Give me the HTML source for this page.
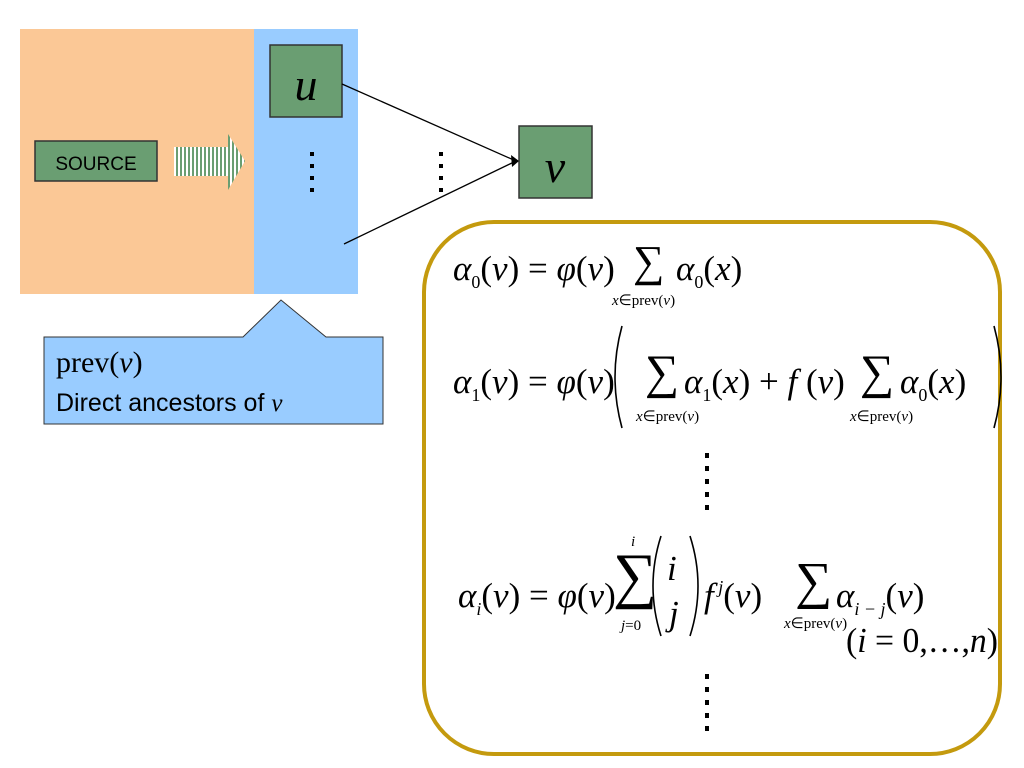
<!DOCTYPE html>
<html><head><meta charset="utf-8"><style>
body{margin:0;background:#fff;}
svg{display:block;}
.m{font-family:"Liberation Serif",serif;font-size:35px;}
.i{font-style:italic;}
.s{font-family:"Liberation Serif",serif;font-size:15px;}
</style></head><body>
<svg width="1024" height="768" viewBox="0 0 1024 768" xmlns="http://www.w3.org/2000/svg">
<defs>
<pattern id="st" width="4" height="4" patternUnits="userSpaceOnUse">
<rect width="2" height="4" fill="#6a9e72"/><rect x="2" width="2" height="4" fill="#fff"/>
</pattern>
</defs>
<rect x="20" y="29" width="234" height="265" fill="#fbc896"/>
<rect x="254" y="29" width="104" height="265" fill="#99ccff"/>
<rect x="35" y="141" width="122" height="40" fill="#6a9e72" stroke="#333" stroke-width="1.5"/>
<text x="96" y="170" font-family="Liberation Sans, sans-serif" font-size="19" text-anchor="middle" fill="#000">SOURCE</text>
<polygon points="174,147 228,147 228,134 245,161 228,190 228,176 174,176" fill="url(#st)"/>
<rect x="270" y="45" width="72" height="72" fill="#6a9e72" stroke="#333" stroke-width="1.5"/>
<text x="306" y="100" class="m i" text-anchor="middle" style="font-size:46px">u</text>
<rect x="519" y="126" width="73" height="72" fill="#6a9e72" stroke="#333" stroke-width="1.5"/>
<text x="555" y="182" class="m i" text-anchor="middle" style="font-size:46px">v</text>
<g fill="#000">
<rect x="310" y="152" width="4" height="4"/><rect x="310" y="164" width="4" height="4"/><rect x="310" y="176" width="4" height="4"/><rect x="310" y="188" width="4" height="4"/>
<rect x="439" y="152" width="4" height="4"/><rect x="439" y="164" width="4" height="4"/><rect x="439" y="176" width="4" height="4"/><rect x="439" y="188" width="4" height="4"/>
</g>
<line x1="342" y1="84" x2="516" y2="161" stroke="#000" stroke-width="1.3"/>
<line x1="344" y1="244" x2="516" y2="161" stroke="#000" stroke-width="1.3"/>
<polygon points="519,161 511,155 512,167" fill="#000"/>
<polygon points="44,337 243,337 281,300 326,337 383,337 383,424 44,424" fill="#99ccff" stroke="#333" stroke-width="1"/>
<text x="56" y="372" class="m" style="font-size:30px">prev(<tspan class="i">v</tspan>)</text>
<text x="56" y="411" font-family="Liberation Sans, sans-serif" font-size="25">Direct ancestors of <tspan font-family="Liberation Serif, serif" font-style="italic">v</tspan></text>
<rect x="424" y="222" width="576" height="532" rx="70" ry="70" fill="#fff" stroke="#c49a0e" stroke-width="4"/>
<!-- eq 1 -->
<text x="453" y="280" class="m"><tspan class="i">α</tspan><tspan font-size="18" dy="8">0</tspan><tspan dy="-8">(</tspan><tspan class="i">v</tspan>) = <tspan class="i">φ</tspan>(<tspan class="i">v</tspan>)</text>
<text x="633" y="276" class="m" style="font-size:44px">∑</text>
<text x="676" y="280" class="m"><tspan class="i">α</tspan><tspan font-size="18" dy="8">0</tspan><tspan dy="-8">(</tspan><tspan class="i">x</tspan>)</text>
<text x="612" y="305" class="s"><tspan font-style="italic">x</tspan>∈prev(<tspan font-style="italic">v</tspan>)</text>
<!-- eq 2 -->
<text x="453" y="393" class="m"><tspan class="i">α</tspan><tspan font-size="18" dy="8">1</tspan><tspan dy="-8">(</tspan><tspan class="i">v</tspan>) = <tspan class="i">φ</tspan>(<tspan class="i">v</tspan>)</text>
<path d="M622,326 Q608,377 622,428" fill="none" stroke="#000" stroke-width="1.6"/>
<path d="M994,326 Q1008,377 994,428" fill="none" stroke="#000" stroke-width="1.6"/>
<text x="645" y="388" class="m" style="font-size:48px">∑</text>
<text x="684" y="393" class="m"><tspan class="i">α</tspan><tspan font-size="18" dy="8">1</tspan><tspan dy="-8">(</tspan><tspan class="i">x</tspan>) + <tspan class="i">f</tspan> (<tspan class="i">v</tspan>)</text>
<text x="860" y="388" class="m" style="font-size:48px">∑</text>
<text x="900" y="393" class="m"><tspan class="i">α</tspan><tspan font-size="18" dy="8">0</tspan><tspan dy="-8">(</tspan><tspan class="i">x</tspan>)</text>
<text x="636" y="421" class="s"><tspan font-style="italic">x</tspan>∈prev(<tspan font-style="italic">v</tspan>)</text>
<text x="850" y="421" class="s"><tspan font-style="italic">x</tspan>∈prev(<tspan font-style="italic">v</tspan>)</text>
<g fill="#000">
<rect x="705" y="453" width="4" height="5"/><rect x="705" y="466" width="4" height="5"/><rect x="705" y="479" width="4" height="5"/><rect x="705" y="492" width="4" height="5"/><rect x="705" y="505" width="4" height="5"/>
<rect x="705" y="726" width="4" height="5"/><rect x="705" y="713" width="4" height="5"/><rect x="705" y="700" width="4" height="5"/><rect x="705" y="687" width="4" height="5"/><rect x="705" y="674" width="4" height="5"/>
</g>
<!-- eq 3 -->
<text x="458" y="607" class="m"><tspan class="i">α</tspan><tspan font-size="18" dy="8" class="i">i</tspan><tspan dy="-8">(</tspan><tspan class="i">v</tspan>) = <tspan class="i">φ</tspan>(<tspan class="i">v</tspan>)</text>
<text x="613" y="596" class="m" style="font-size:62px">∑</text>
<text x="631" y="546" class="s" font-style="italic">i</text>
<text x="621" y="630" class="s"><tspan font-style="italic">j</tspan>=0</text>
<path d="M661,536 Q645,586 661,636" fill="none" stroke="#000" stroke-width="1.6"/>
<path d="M690,536 Q706,586 690,636" fill="none" stroke="#000" stroke-width="1.6"/>
<text x="667" y="580" class="m i">i</text>
<text x="669" y="625" class="m i">j</text>
<text x="704" y="607" class="m"><tspan class="i">f</tspan><tspan font-size="18" dy="-14" class="i"> j</tspan><tspan dy="14">(</tspan><tspan class="i">v</tspan>)</text>
<text x="795" y="598" class="m" style="font-size:52px">∑</text>
<text x="836" y="607" class="m"><tspan class="i">α</tspan><tspan font-size="18" dy="8" class="i">i − j</tspan><tspan dy="-8">(</tspan><tspan class="i">v</tspan>)</text>
<text x="784" y="628" class="s"><tspan font-style="italic">x</tspan>∈prev(<tspan font-style="italic">v</tspan>)</text>
<text x="846" y="652" class="m" textLength="152" lengthAdjust="spacingAndGlyphs">(<tspan class="i">i</tspan> = 0,…,<tspan class="i">n</tspan>)</text>
</svg>
</body></html>
